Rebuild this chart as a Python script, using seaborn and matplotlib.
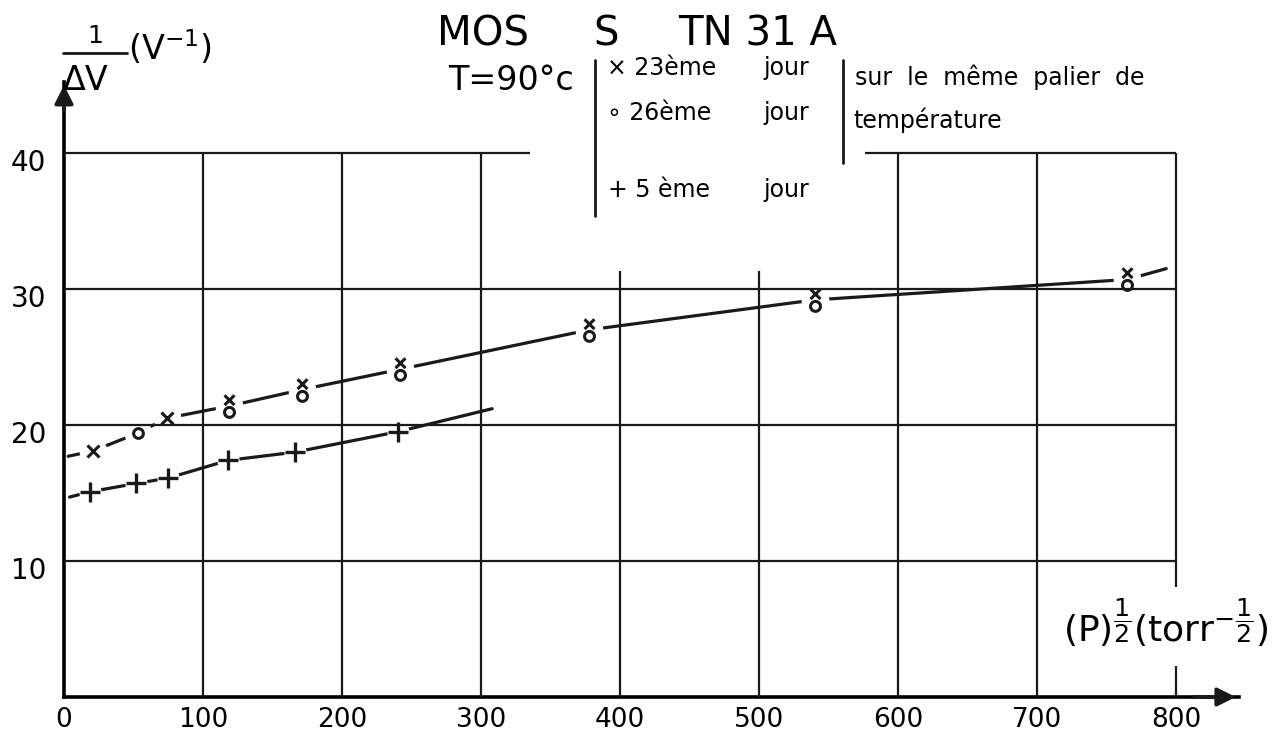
import numpy as np
import pandas as pd
import matplotlib
matplotlib.use("Agg")
import matplotlib.pyplot as plt
import matplotlib.transforms as mtransforms
from matplotlib.lines import Line2D
from matplotlib.markers import MarkerStyle
from matplotlib.path import Path
import seaborn as sns

# Square root of pressure (torr^1/2) against inverse threshold shift 1/ΔV (V^-1)
p_day23 = [21, 74, 119, 171, 242, 378, 540, 765]
inv_dv_day23 = [18.1, 20.5, 21.4, 22.6, 24.1, 27.0, 29.2, 30.7]
p_day26 = [53, 119, 171, 242, 378, 540, 765]
inv_dv_day26 = [19.4, 21.4, 22.6, 24.1, 27.0, 29.2, 30.7]
p_day5 = [19, 52, 75, 118, 166, 240]
inv_dv_day5 = [15.1, 15.7, 16.1, 17.4, 18.0, 19.5]

# Ends of the hand-fitted trend lines
trend_upper_p = [3, 793]
trend_upper_v = [17.7, 31.5]
trend_lower_p = [4, 308]
trend_lower_v = [14.7, 21.2]

x_ticks = [0, 100, 200, 300, 400, 500, 600, 700, 800]
x_tick_labels = ["0", "100", "200", "300", "400", "500", "600", "700", "800"]
y_ticks = [10, 20, 30, 40]
y_tick_labels = ["10", "20", "30", "40"]

sns.set_theme(style="white")
plt.rcParams["font.family"] = ["DejaVu Sans"]
plt.rcParams["mathtext.fontset"] = "dejavusans"

W, H = 1277, 738
fig = plt.figure(figsize=(W / 100, H / 100), dpi=100)
fig.patch.set_facecolor("white")

x_max, y_max = 845, 45.2
ax = fig.add_axes([64 / W, 41 / H, 1.39 * x_max / W, 13.6 * y_max / H])
ax.set_facecolor("white")
ax.set_xlim(0, x_max)
ax.set_ylim(0, y_max)

for side in ("top", "right"):
    ax.spines[side].set_visible(False)
for side in ("left", "bottom"):
    ax.spines[side].set_linewidth(2.6)
    ax.spines[side].set_color("black")

# axis arrows
ax.annotate("", xy=(1.0, 0), xytext=(0.96, 0), xycoords="axes fraction",
            arrowprops=dict(arrowstyle="-|>", color="k", lw=2.6, mutation_scale=28))
ax.annotate("", xy=(0, 1.0), xytext=(0, 0.95), xycoords="axes fraction",
            arrowprops=dict(arrowstyle="-|>", color="k", lw=2.6, mutation_scale=28))

# hand-ruled grid
grid_kw = dict(color="k", lw=1.6, zorder=3)
ax.hlines([10, 20, 30], 0, 800, **grid_kw)
ax.hlines(40, 0, 335, **grid_kw)
ax.hlines(40, 576, 800, **grid_kw)
ax.vlines([100, 200, 300, 600, 700], 0, 40, **grid_kw)
ax.vlines([400, 500], 0, 31.3, **grid_kw)
ax.vlines(800, 0, 2.3, **grid_kw)
ax.vlines(800, 8.1, 40, **grid_kw)

# trend lines
upper_pts = (pd.DataFrame({"p": p_day23 + p_day26, "v": inv_dv_day23 + inv_dv_day26})
             .groupby("p", as_index=False)["v"].mean())
upper = pd.concat([pd.DataFrame({"p": trend_upper_p[:1], "v": trend_upper_v[:1]}),
                   upper_pts,
                   pd.DataFrame({"p": trend_upper_p[1:], "v": trend_upper_v[1:]})],
                  ignore_index=True)
lower = pd.concat([pd.DataFrame({"p": trend_lower_p[:1], "v": trend_lower_v[:1]}),
                   pd.DataFrame({"p": p_day5, "v": inv_dv_day5}),
                   pd.DataFrame({"p": trend_lower_p[1:], "v": trend_lower_v[1:]})],
                  ignore_index=True)
for df in (upper, lower):
    sns.lineplot(data=df, x="p", y="v", sort=False, estimator=None,
                 color="k", lw=2.3, ax=ax, zorder=2)

# white gaps around plotted points
halo_kw = dict(linestyle="none", marker="o", markerfacecolor="white",
               markeredgecolor="white", zorder=2.5)
ax.plot(upper_pts["p"], upper_pts["v"], markersize=19, **halo_kw)
ax.plot(p_day5, inv_dv_day5, markersize=15, **halo_kw)

# glyphs: when both days share a point the cross sits above the ring
x_top = MarkerStyle(Path([(0, -1), (-0.42, 0.12), (0.42, 0.95), (-0.42, 0.95), (0.42, 0.12)],
                         [Path.MOVETO, Path.MOVETO, Path.LINETO, Path.MOVETO, Path.LINETO]))
o_bottom = MarkerStyle(Path.make_compound_path(Path([(0, 1)], [Path.MOVETO]),
                                               Path.circle((0, -0.5), 0.42)))

p23 = np.array(p_day23); v23 = np.array(inv_dv_day23)
p26 = np.array(p_day26); v26 = np.array(inv_dv_day26)
shared23 = np.isin(p23, p26)
shared26 = np.isin(p26, p23)

mk = dict(linestyle="none", color="k", markerfacecolor="none", markeredgecolor="k", zorder=4)
ax.plot(p23[shared23], v23[shared23], marker=x_top, markersize=17, markeredgewidth=2.2, **mk)
ax.plot(p26[shared26], v26[shared26], marker=o_bottom, markersize=17, markeredgewidth=2.2, **mk)
ax.plot(p23[~shared23], v23[~shared23], marker="x", markersize=9, markeredgewidth=2.2, **mk)
ax.plot(p26[~shared26], v26[~shared26], marker="o", markersize=7, markeredgewidth=2.2, **mk)
ax.plot(p_day5, inv_dv_day5, marker="+", markersize=14, markeredgewidth=2.4, **mk)

# ticks (set after seaborn so its automatic axis labels are cleared)
ax.set_xticks(x_ticks)
ax.set_xticklabels(x_tick_labels, fontsize=19)
ax.set_yticks(y_ticks)
ax.set_yticklabels(y_tick_labels, fontsize=20)
ax.tick_params(axis="both", length=0, colors="black")
ax.tick_params(axis="x", pad=7)
ax.tick_params(axis="y", pad=13)
shift = mtransforms.ScaledTranslation(0, -7 / 100, fig.dpi_scale_trans)
for lab in ax.get_yticklabels():
    lab.set_transform(lab.get_transform() + shift)
ax.set_xlabel("")
ax.set_ylabel("")
ax.set_xlim(0, x_max)
ax.set_ylim(0, y_max)


def ftext(x, y, s, **kw):
    kw.setdefault("va", "baseline")
    kw.setdefault("color", "black")
    fig.text(x / W, 1 - y / H, s, **kw)


def fline(x0, y0, x1, y1, lw=2.0):
    fig.add_artist(Line2D([x0 / W, x1 / W], [1 - y0 / H, 1 - y1 / H],
                          transform=fig.transFigure, color="k", lw=lw))


# title
ftext(437, 45, "MOS", fontsize=29)
ftext(593, 45, "S", fontsize=29)
ftext(678, 45, "TN 31 A", fontsize=29)
ftext(448, 90, "T=90°c", fontsize=24)

# key
fline(595, 60, 595, 216)
ftext(607, 75, "× 23ème", fontsize=17)
ftext(763, 75, "jour", fontsize=17)
ftext(607, 120, "∘ 26ème", fontsize=17)
ftext(763, 120, "jour", fontsize=17)
ftext(608, 197, "+ 5 ème", fontsize=17)
ftext(763, 197, "jour", fontsize=17)
fline(843, 60, 843, 163)
ftext(855, 85, "sur  le  même  palier  de", fontsize=17)
ftext(853, 128, "température", fontsize=17)

# y-axis title
ftext(95, 43, "1", fontsize=18, ha="center")
fline(63, 53, 127, 53)
ftext(63, 90, "ΔV", fontsize=24)
ftext(128, 60, r"(V$^{-1}$)", fontsize=24)

# x-axis title
ftext(1063, 642, r"$(\mathrm{P})^{\dfrac{1}{2}}(\mathrm{torr}^{-\dfrac{1}{2}})$", fontsize=26)

fig.savefig("out.png", dpi=100)
